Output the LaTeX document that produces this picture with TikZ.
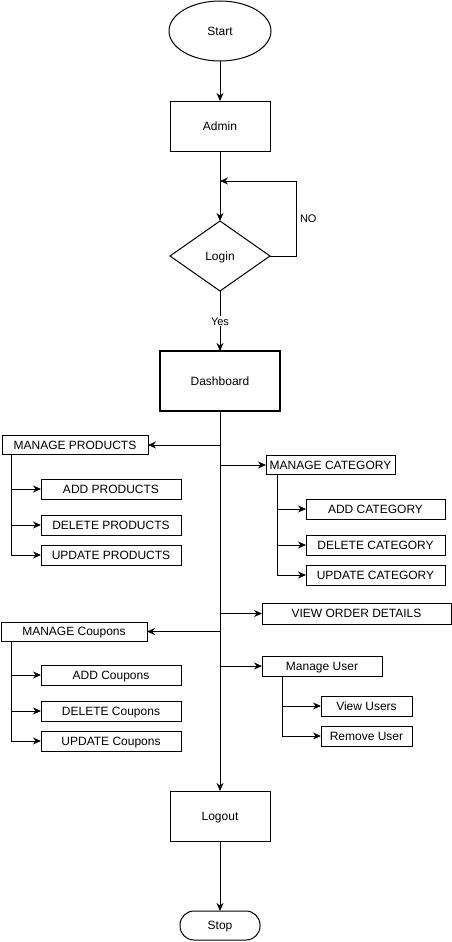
\documentclass[tikz,border=0pt]{standalone}
\usepackage{fontspec}
\setmainfont{Liberation Sans}
\usetikzlibrary{positioning,arrows.meta,shapes.geometric}

\begin{document}
\begin{tikzpicture}[x=1pt, y=-1pt, line width=1pt, font=\fontsize{12}{14}\selectfont,
  every node/.style={align=center, inner sep=0pt, outer sep=0pt, text height=8.6pt, text depth=0pt},
  block/.style={draw, minimum height=20pt},
  flow/.style={-{Stealth[length=8pt,width=7pt]}},
  tag/.style={font=\fontsize{11}{13}\selectfont, inner sep=1pt}]
\useasboundingbox (0,0) rectangle (452,942);

% main column
\node (start) [draw, ellipse, minimum width=102pt, minimum height=60pt] at (220,31) {Start};
\node (admin) [block, minimum width=100pt, minimum height=50pt, below=40pt of start] {Admin};
\node (login) [draw, diamond, minimum width=100pt, minimum height=70pt, below=70pt of admin] {Login};
\node (dash) [block, line width=2pt, minimum width=120pt, minimum height=60pt, below=60pt of login] {Dashboard};
\node (logout) [block, minimum width=100pt, minimum height=50pt, below=380pt of dash] {Logout};
\node (stop) [block, rounded corners=14pt, minimum width=80pt, minimum height=29pt, below=70pt of logout] {Stop};

% products
\node (prod) [block, minimum width=146pt, minimum height=19pt] at (75,445) {MANAGE PRODUCTS};
\node (addp) [block, minimum width=140pt] at (111,489) {ADD PRODUCTS};
\node (delp) [block, minimum width=140pt] at (111,525) {DELETE PRODUCTS};
\node (updp) [block, minimum width=140pt] at (111,555) {UPDATE PRODUCTS};

% category
\node (cat) [block, minimum width=129pt, minimum height=19pt] at (330.5,465) {MANAGE CATEGORY};
\node (addc) [block, minimum width=139pt] at (375.5,509) {ADD CATEGORY};
\node (delc) [block, minimum width=139pt] at (375.5,545) {DELETE CATEGORY};
\node (updc) [block, minimum width=139pt] at (375.5,575) {UPDATE CATEGORY};

\node (order) [block, minimum width=189pt, minimum height=21pt] at (356.5,613.5) {VIEW ORDER DETAILS};

% coupons
\node (coup) [block, minimum width=146pt, minimum height=19pt] at (74,631.5) {MANAGE Coupons};
\node (addcp) [block, minimum width=140pt] at (111,675) {ADD Coupons};
\node (delcp) [block, minimum width=140pt] at (111,711) {DELETE Coupons};
\node (updcp) [block, minimum width=140pt] at (111,741) {UPDATE Coupons};

% users
\node (user) [block, minimum width=120pt] at (322,666) {Manage User};
\node (viewu) [block, minimum width=91pt] at (366.5,706) {View Users};
\node (remu) [block, minimum width=91pt] at (366.5,736) {Remove User};

\draw[flow] (start) -- (admin);
\draw[flow] (admin) -- (login);
\draw[flow] (login.east) -- ++(26,0) |- ([yshift=-30pt]admin.south) node[tag, pos=0.25, right=3pt] {NO};
\draw[flow] (login) -- (dash) node[tag, midway, fill=white] {Yes};
\draw[flow] (dash) -- (logout);
\draw[flow] (logout) -- (stop);

\draw[flow] (prod.east -| dash.south) -- (prod);
\draw[flow] (cat.west -| dash.south) -- (cat);
\draw[flow] (order.west -| dash.south) -- (order);
\draw[flow] (coup.east -| dash.south) -- (coup);
\draw[flow] (user.west -| dash.south) -- (user);

\foreach \s in {addp,delp,updp} \draw[flow] ([xshift=9pt]prod.south west) |- (\s);
\foreach \s in {addc,delc,updc} \draw[flow] ([xshift=11pt]cat.south west) |- (\s);
\foreach \s in {addcp,delcp,updcp} \draw[flow] ([xshift=10pt]coup.south west) |- (\s);
\foreach \s in {viewu,remu} \draw[flow] ([xshift=20pt]user.south west) |- (\s);
\end{tikzpicture}
\end{document}
